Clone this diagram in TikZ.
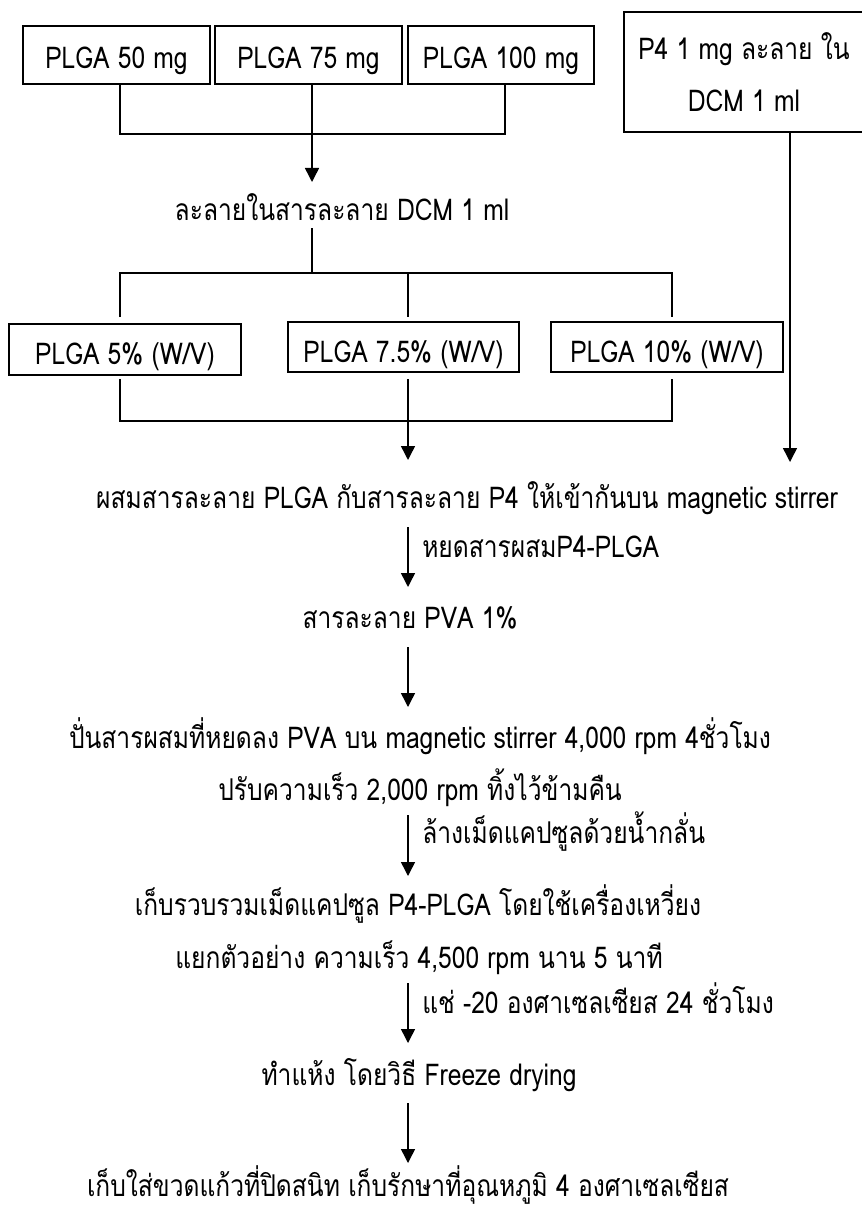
\documentclass[tikz,border=0pt]{standalone}
\usepackage{fontspec}
\newfontfamily\thaifont[Script=Thai,FakeStretch=0.82]{Loma}
\usetikzlibrary{arrows.meta}
\begin{document}
\begin{tikzpicture}[x=0.75pt,y=-0.75pt,
  every node/.style={font=\thaifont\fontsize{22.5pt}{27pt}\selectfont, inner sep=0pt},
  box/.style={draw, line width=1.2pt, text height=21pt, text depth=0pt},
  boxb/.style={box, text height=23pt},
  ln/.style={line width=1.1pt},
  arr/.style={ln, -{Triangle[length=10.5pt,width=10.5pt]}},
  txt/.style={anchor=base},
  lbl/.style={anchor=base west}]
\useasboundingbox (0,0) rectangle (862,1209);

% top row boxes
\node[box, minimum width=140.25pt, minimum height=43.5pt] (b50) at (116.5,55) {PLGA 50 mg};
\node[box, minimum width=140.25pt, minimum height=43.5pt] (b75) at (308.5,55) {PLGA 75 mg};
\node[box, minimum width=139.5pt, minimum height=43.5pt] (b100) at (501,55) {PLGA 100 mg};
\node[draw, line width=1.2pt, minimum width=180pt, minimum height=90pt, align=center,
      font=\thaifont\fontsize{22.5pt}{39pt}\selectfont] (p4) at (744,72) {P4 1 mg ละลาย ใน\\DCM 1 ml};

\coordinate (h1l) at (120,134);
\coordinate (j1) at (312,134);
\coordinate (h1r) at (505,134);
\coordinate (a1) at (312,182);
\draw[ln] (b50.south -| h1l) -- (h1l) -- (h1r) -- (b100.south -| h1r);
\draw[arr] (b75.south -| j1) -- (a1);

\node[txt] (t1) at (342,220) {ละลายในสารละลาย DCM 1 ml};

\coordinate (s1) at (312,228);
\coordinate (j2) at (312,273);
\coordinate (h2l) at (120,273);
\coordinate (h2m) at (408,273);
\coordinate (h2r) at (672,273);
\coordinate (e2l) at (120,317);
\coordinate (e2m) at (408,317);
\coordinate (e2r) at (672,317);
\draw[ln] (s1) -- (j2);
\draw[ln] (e2l) -- (h2l) -- (h2r) -- (e2r);
\draw[ln] (h2m) -- (e2m);

% second row boxes
\node[boxb, minimum width=174pt, minimum height=38.25pt] (p5) at (125,349.5) {PLGA 5\% (W/V)};
\node[boxb, minimum width=173.25pt, minimum height=37.5pt] (p75) at (403.5,347) {PLGA 7.5\% (W/V)};
\node[boxb, minimum width=174pt, minimum height=37.5pt] (p10) at (667,347) {PLGA 10\% (W/V)};

\coordinate (g3l) at (120,379);
\coordinate (g3m) at (408,379);
\coordinate (g3r) at (672,379);
\coordinate (h3l) at (120,421);
\coordinate (h3m) at (408,421);
\coordinate (h3r) at (672,421);
\coordinate (a3) at (408,460);
\coordinate (pa) at (790,462);
\draw[ln] (g3l) -- (h3l) -- (h3r) -- (g3r);
\draw[arr] (g3m) -- (a3);
\draw[arr] (p4.south -| pa) -- (pa);

\node[txt] (t2) at (467,508) {ผสมสารละลาย PLGA กับสารละลาย P4 ให้เข้ากันบน magnetic stirrer};

\coordinate (a4s) at (408,527);
\coordinate (a4e) at (408,587);
\draw[arr] (a4s) -- (a4e);
\node[lbl] (l4) at (422,557) {หยดสารผสมP4-PLGA};

\node[txt] (t3) at (410,628) {สารละลาย PVA 1\%};

\coordinate (a5s) at (408,647);
\coordinate (a5e) at (408,707);
\draw[arr] (a5s) -- (a5e);

\node[txt] (t4) at (420,748) {ปั่นสารผสมที่หยดลง PVA บน magnetic stirrer 4,000 rpm 4ชั่วโมง};
\node[txt] (t5) at (420,800) {ปรับความเร็ว 2,000 rpm ทิ้งไว้ข้ามคืน};

\coordinate (a6s) at (408,815);
\coordinate (a6e) at (408,876);
\draw[arr] (a6s) -- (a6e);
\node[lbl] (l6) at (422,843) {ล้างเม็ดแคปซูลด้วยน้ำกลั่น};

\node[txt] (t6) at (418,915) {เก็บรวบรวมเม็ดแคปซูล P4-PLGA โดยใช้เครื่องเหวี่ยง};
\node[txt] (t7) at (419,968) {แยกตัวอย่าง ความเร็ว 4,500 rpm นาน 5 นาที};

\coordinate (a7s) at (408,983);
\coordinate (a7e) at (408,1043);
\draw[arr] (a7s) -- (a7e);
\node[lbl] (l7) at (422,1013) {แช่ -20 องศาเซลเซียส 24 ชั่วโมง};

\node[txt] (t8) at (419,1085) {ทำแห้ง โดยวิธี Freeze drying};

\coordinate (a8s) at (408,1103);
\coordinate (a8e) at (408,1163);
\draw[arr] (a8s) -- (a8e);

\node[txt] (t9) at (408,1196) {เก็บใส่ขวดแก้วที่ปิดสนิท เก็บรักษาที่อุณหภูมิ 4 องศาเซลเซียส};
\end{tikzpicture}
\end{document}
